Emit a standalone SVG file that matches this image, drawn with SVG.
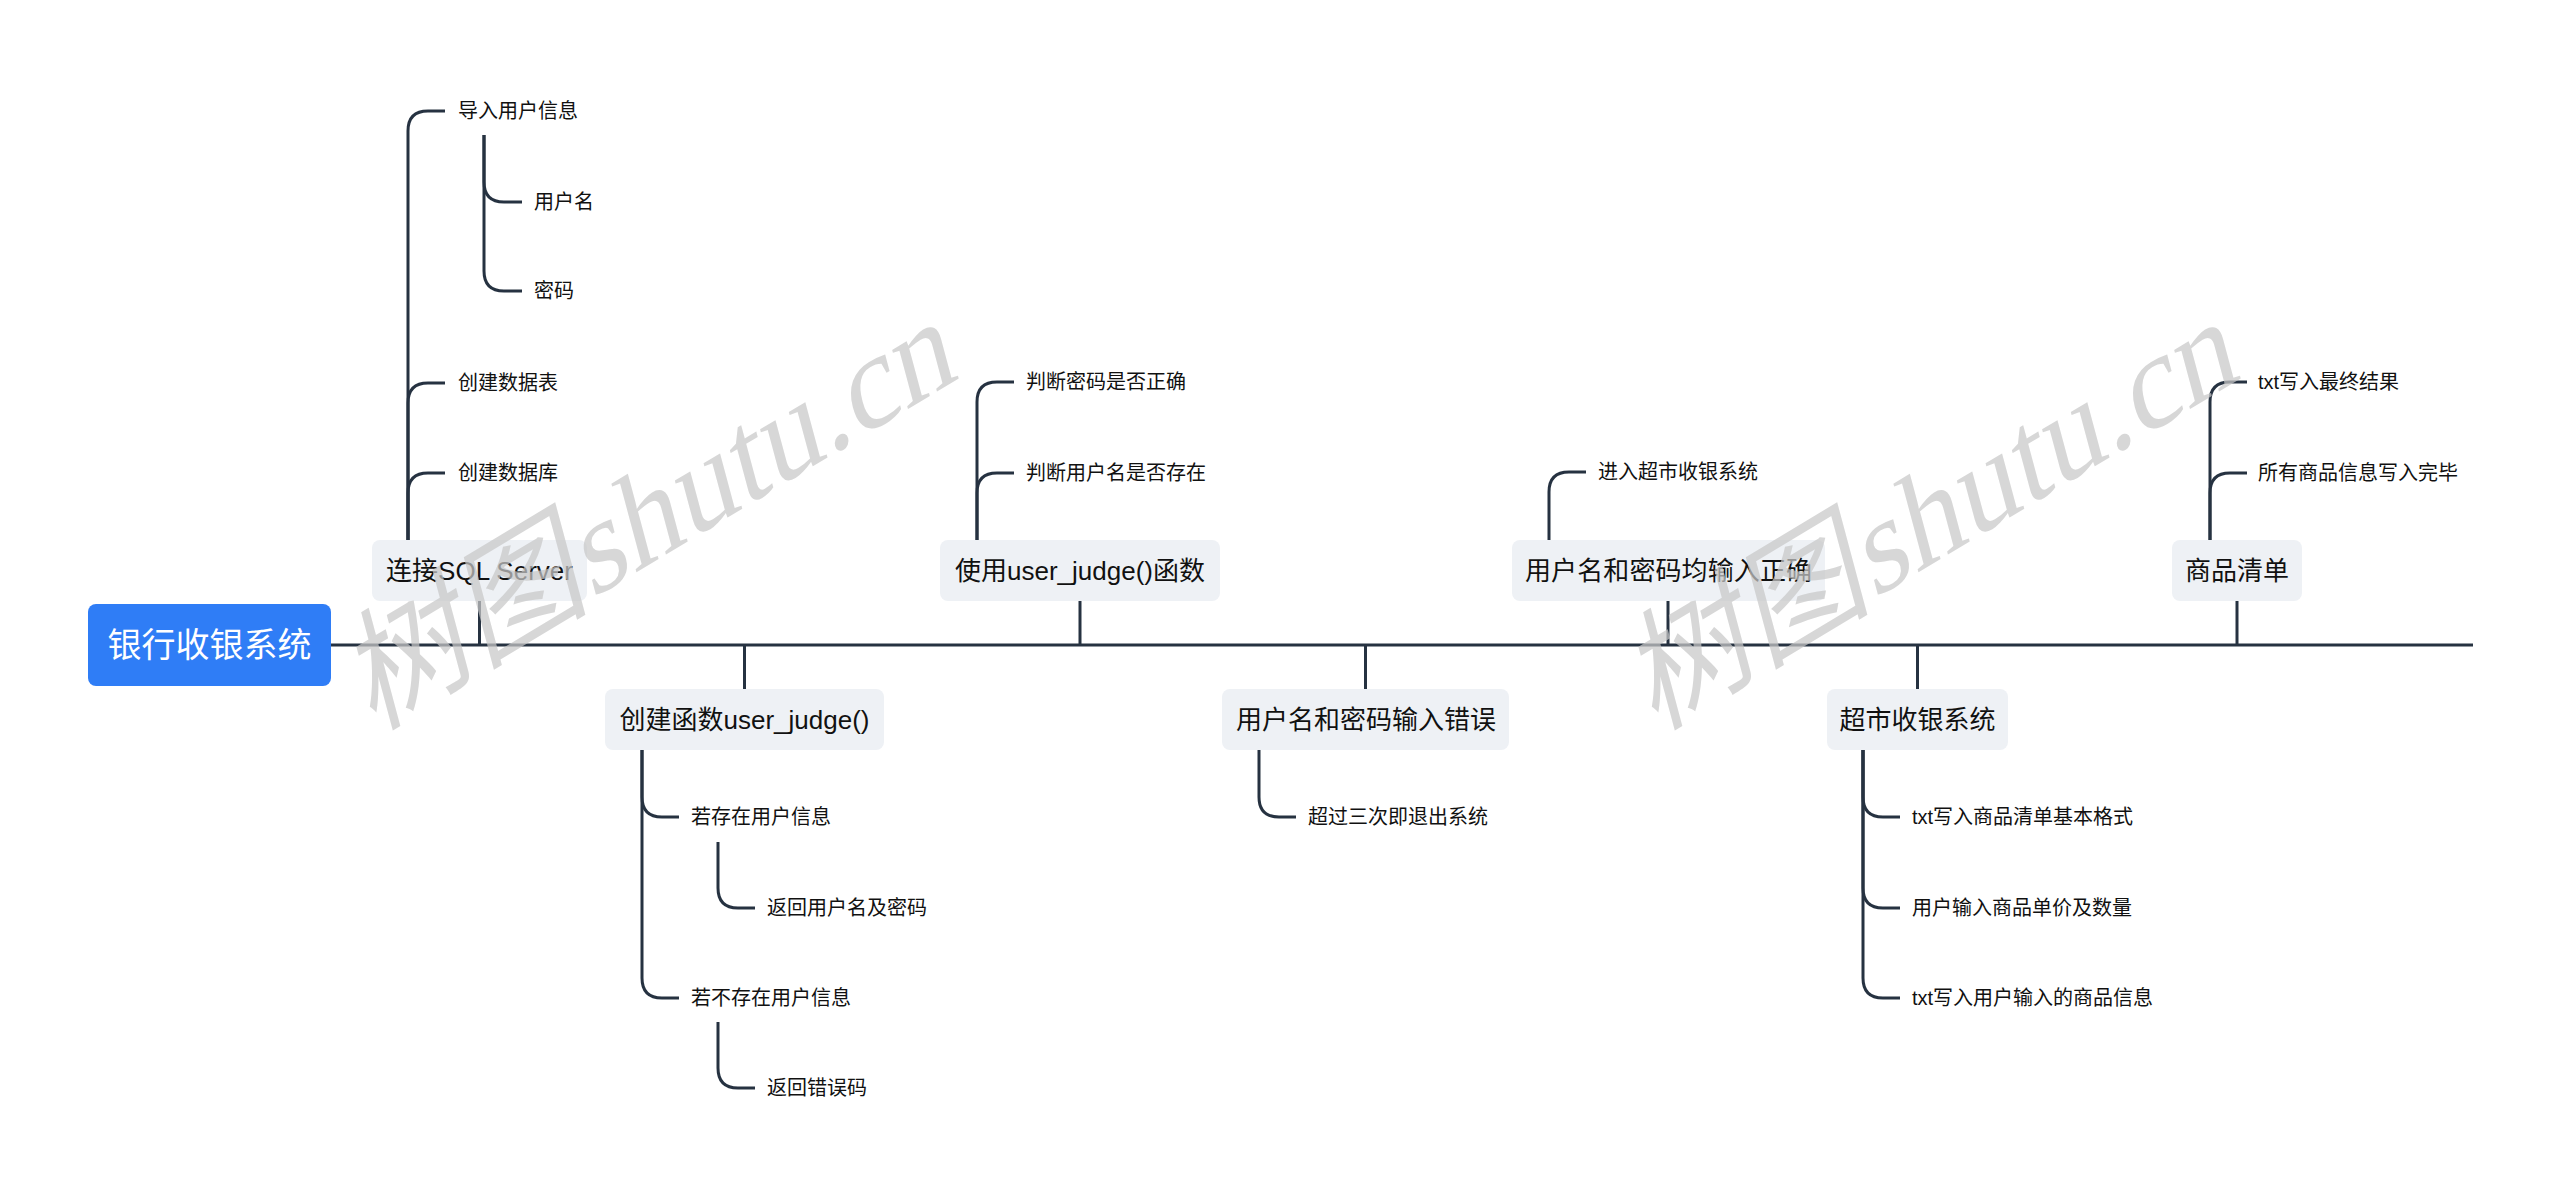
<svg xmlns="http://www.w3.org/2000/svg" width="2560" height="1200" viewBox="0 0 2560 1200">
<style>
.bg{fill:#ffffff}
.ln{fill:none;stroke:#263241;stroke-width:3;stroke-linecap:butt}
.box{fill:#eef1f5}
.root{fill:#2f7df6}
.rt{font-family:"Liberation Sans","Noto Sans CJK SC",sans-serif;font-size:34px;fill:#ffffff;text-anchor:middle;dominant-baseline:central}
.nt{font-family:"Liberation Sans","Noto Sans CJK SC",sans-serif;font-size:26px;fill:#111111;text-anchor:middle;dominant-baseline:central}
.ns{font-family:"Liberation Sans","Noto Sans CJK SC",sans-serif;font-size:26px;fill:#111111;dominant-baseline:central}
.ct{font-family:"Liberation Sans","Noto Sans CJK SC",sans-serif;font-size:20px;fill:#111111;dominant-baseline:central}
.wm{font-family:"Liberation Serif","Noto Sans CJK SC",serif;font-size:128px;fill:#c8c8c8;opacity:0.72;text-anchor:middle}
</style>
<rect class="bg" x="0" y="0" width="2560" height="1200"/>

<g id="connectors">
  <line class="ln" x1="331" y1="645" x2="2473" y2="645"/>
  <line class="ln" x1="479.5" y1="601" x2="479.5" y2="645"/>
  <line class="ln" x1="744.5" y1="645" x2="744.5" y2="689"/>
  <line class="ln" x1="1080" y1="601" x2="1080" y2="645"/>
  <line class="ln" x1="1365.5" y1="645" x2="1365.5" y2="689"/>
  <line class="ln" x1="1668" y1="601" x2="1668" y2="645"/>
  <line class="ln" x1="1917.5" y1="645" x2="1917.5" y2="689"/>
  <line class="ln" x1="2237" y1="601" x2="2237" y2="645"/>

  <path class="ln" d="M408,540 L408,131 Q408,111 428,111 L445,111"/>
  <path class="ln" d="M408,540 L408,403 Q408,383 428,383 L445,383"/>
  <path class="ln" d="M408,540 L408,493 Q408,473 428,473 L445,473"/>
  <path class="ln" d="M484,135 L484,182 Q484,202 504,202 L522,202"/>
  <path class="ln" d="M484,135 L484,271 Q484,291 504,291 L522,291"/>

  <path class="ln" d="M642,750 L642,797 Q642,817 662,817 L679,817"/>
  <path class="ln" d="M642,750 L642,978 Q642,998 662,998 L679,998"/>
  <path class="ln" d="M718,842 L718,888 Q718,908 738,908 L755,908"/>
  <path class="ln" d="M718,1022 L718,1068 Q718,1088 738,1088 L755,1088"/>

  <path class="ln" d="M977,540 L977,402 Q977,382 997,382 L1014,382"/>
  <path class="ln" d="M977,540 L977,493 Q977,473 997,473 L1014,473"/>

  <path class="ln" d="M1259,750 L1259,797 Q1259,817 1279,817 L1296,817"/>

  <path class="ln" d="M1549,540 L1549,492 Q1549,472 1569,472 L1586,472"/>

  <path class="ln" d="M1863,750 L1863,797 Q1863,817 1883,817 L1900,817"/>
  <path class="ln" d="M1863,750 L1863,888 Q1863,908 1883,908 L1900,908"/>
  <path class="ln" d="M1863,750 L1863,978 Q1863,998 1883,998 L1900,998"/>

  <path class="ln" d="M2210,540 L2210,402 Q2210,382 2230,382 L2247,382"/>
  <path class="ln" d="M2210,540 L2210,493 Q2210,473 2230,473 L2247,473"/>
</g>

<g id="root">
  <rect class="root" x="88" y="604" width="243" height="82" rx="8"/>
  <text class="rt" x="209.5" y="645">银行收银系统</text>
</g>

<g id="n-sql">
  <rect class="box" x="372" y="540" width="215" height="61" rx="8"/>
  <text class="nt" x="479.5" y="570.5">连接SQL Server</text>
</g>
<g id="n-sql-c1"><text class="ct" x="458" y="111">导入用户信息</text></g>
<g id="n-sql-c1-a"><text class="ct" x="534" y="202">用户名</text></g>
<g id="n-sql-c1-b"><text class="ct" x="534" y="291">密码</text></g>
<g id="n-sql-c2"><text class="ct" x="458" y="383">创建数据表</text></g>
<g id="n-sql-c3"><text class="ct" x="458" y="473">创建数据库</text></g>

<g id="n-create">
  <rect class="box" x="605" y="689" width="279" height="61" rx="8"/>
  <text class="nt" x="744.5" y="719.5">创建函数user_judge()</text>
</g>
<g id="n-create-c1"><text class="ct" x="691" y="817">若存在用户信息</text></g>
<g id="n-create-c1-a"><text class="ct" x="767" y="908">返回用户名及密码</text></g>
<g id="n-create-c2"><text class="ct" x="691" y="998">若不存在用户信息</text></g>
<g id="n-create-c2-a"><text class="ct" x="767" y="1088">返回错误码</text></g>

<g id="n-use">
  <rect class="box" x="940" y="540" width="280" height="61" rx="8"/>
  <text class="nt" x="1080" y="570.5">使用user_judge()函数</text>
</g>
<g id="n-use-c1"><text class="ct" x="1026" y="382">判断密码是否正确</text></g>
<g id="n-use-c2"><text class="ct" x="1026" y="473">判断用户名是否存在</text></g>

<g id="n-wrong">
  <rect class="box" x="1222" y="689" width="287" height="61" rx="8"/>
  <text class="ns" x="1236" y="719.5" textLength="260" lengthAdjust="spacing">用户名和密码输入错误</text>
</g>
<g id="n-wrong-c1"><text class="ct" x="1308" y="817">超过三次即退出系统</text></g>

<g id="n-right">
  <rect class="box" x="1512" y="540" width="313" height="61" rx="8"/>
  <text class="ns" x="1525" y="570.5" textLength="287" lengthAdjust="spacing">用户名和密码均输入正确</text>
</g>
<g id="n-right-c1"><text class="ct" x="1598" y="472">进入超市收银系统</text></g>

<g id="n-market">
  <rect class="box" x="1827" y="689" width="181" height="61" rx="8"/>
  <text class="nt" x="1917.5" y="719.5">超市收银系统</text>
</g>
<g id="n-market-c1"><text class="ct" x="1912" y="817">txt写入商品清单基本格式</text></g>
<g id="n-market-c2"><text class="ct" x="1912" y="908">用户输入商品单价及数量</text></g>
<g id="n-market-c3"><text class="ct" x="1912" y="998">txt写入用户输入的商品信息</text></g>

<g id="n-list">
  <rect class="box" x="2172" y="540" width="130" height="61" rx="8"/>
  <text class="nt" x="2237" y="570.5">商品清单</text>
</g>
<g id="n-list-c1"><text class="ct" x="2258" y="382">txt写入最终结果</text></g>
<g id="n-list-c2"><text class="ct" x="2258" y="473">所有商品信息写入完毕</text></g>

<g id="watermarks">
  <text class="wm" transform="translate(655,512) rotate(-31) skewX(-16)" x="0" y="42">树图shutu.cn</text>
  <text class="wm" transform="translate(1937,512) rotate(-31) skewX(-16)" x="0" y="42">树图shutu.cn</text>
</g>
</svg>
